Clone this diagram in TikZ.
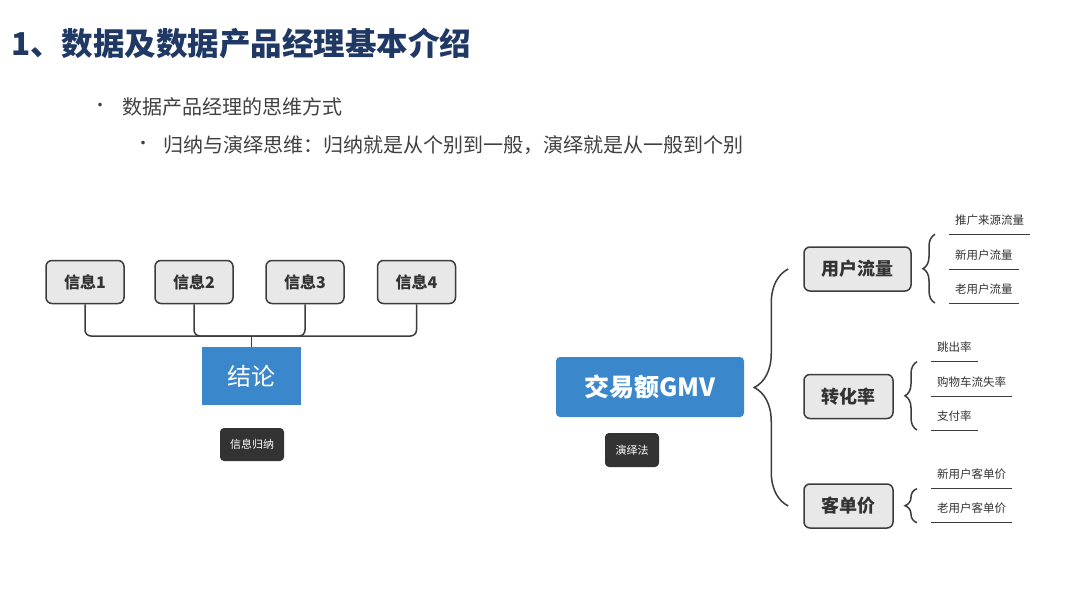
\documentclass[tikz,border=0pt]{standalone}
\usepackage{fontspec}
\setmainfont{Noto Sans CJK SC}
\usepackage{tikz}
\usetikzlibrary{decorations.pathreplacing,positioning}
\definecolor{SlideNavy}{HTML}{203864}
\definecolor{SlideGray}{HTML}{404040}
\definecolor{MapBlue}{HTML}{3A87CB}
\definecolor{MapPale}{HTML}{E8E8E8}
\definecolor{MapLine}{HTML}{3C3C3C}
\definecolor{MapDark}{HTML}{333333}

\begin{document}
\begin{tikzpicture}[x=1pt,y=-1pt,
  infobox/.style={draw=MapLine,line width=1.5pt,rounded corners=6pt,fill=MapPale,
    minimum width=78pt,minimum height=43pt,font=\fontsize{16}{18}\selectfont\bfseries,text=MapDark},
  topicbox/.style={draw=MapLine,line width=1.5pt,rounded corners=6pt,fill=MapPale,
    minimum height=44pt,font=\fontsize{18}{20}\selectfont\bfseries,text=MapDark},
  mainbox/.style={fill=MapBlue,text=white,inner sep=0pt},
  tag/.style={fill=MapDark,text=white,rounded corners=4pt,font=\fontsize{11}{13}\selectfont,
    minimum height=34pt,inner xsep=7pt},
  leaf/.style={anchor=south west,inner xsep=6pt,inner ysep=0pt,minimum height=28pt,
    font=\fontsize{11.5}{13}\selectfont,text=MapDark},
  leafline/.style={draw=MapLine,line width=1pt},
  conn/.style={draw=MapLine,line width=1.5pt,rounded corners=6pt},
  bracket/.style={draw=MapLine,line width=1.5pt,decorate,decoration={brace,amplitude=#1}}]
  \fill[white] (0,0) rectangle (1080,608);
  \useasboundingbox (0,0) rectangle (1080,608);

  % slide heading and bullets
  \node[anchor=west,inner sep=0pt,text=SlideNavy,font=\fontsize{31.5}{34}\selectfont\bfseries]
    (title) at (11,43) {1、数据及数据产品经理基本介绍};
  \node[text=SlideGray,font=\fontsize{17}{18}\selectfont,inner sep=0pt] (dot1) at (100,107) {•};
  \node[anchor=west,inner sep=0pt,text=SlideGray,font=\fontsize{20}{24}\selectfont]
    (way) at (122,107) {数据产品经理的思维方式};
  \node[text=SlideGray,font=\fontsize{17}{18}\selectfont,inner sep=0pt] (dot2) at (143,145) {•};
  \node[anchor=west,inner sep=0pt,text=SlideGray,font=\fontsize{20}{24}\selectfont]
    (induct) at (163,145) {归纳与演绎思维：归纳就是从个别到一般，演绎就是从一般到个别};

  % induction
  \node[infobox] (info1) at (85,282) {信息1};
  \node[infobox] (info2) at (194,282) {信息2};
  \node[infobox] (info3) at (305,282) {信息3};
  \node[infobox] (info4) at (416.5,282) {信息4};
  \node[mainbox,minimum width=99pt,minimum height=58pt,font=\fontsize{24}{28}\selectfont]
    (concl) at (251.5,376) {结论};
  \node[tag,minimum width=64pt,minimum height=33pt] (sum) at (252,444.5) {信息归纳};
  \coordinate (bus) at (251.5,336);
  \foreach \n in {info1,info2,info3,info4}
    \draw[conn] (\n.south) |- (bus);
  \draw[conn] (bus) -- (concl.north);

  % deduction
  \node[mainbox,rounded corners=4pt,minimum width=188pt,minimum height=60pt,
    font=\fontsize{25}{28}\selectfont\bfseries] (gmv) at (650,387) {交易额GMV};
  \node[tag,minimum width=54pt] (rule) at (632,450) {演绎法};
  \node[topicbox,minimum width=107pt] (user) at (857.5,269) {用户流量};
  \node[topicbox,minimum width=89pt] (conv) at (848.5,396.5) {转化率};
  \node[topicbox,minimum width=89pt] (price) at (848.5,506) {客单价};
  \draw[bracket=34pt] ([xshift=-15pt]price.west) -- ([xshift=-15pt]user.west);

  \node[leaf] (u1) at (949,234.3) {推广来源流量};
  \node[leaf] (u2) at (949,269) {新用户流量};
  \node[leaf] (u3) at (949,303) {老用户流量};
  \node[leaf] (c1) at (931,361.7) {跳出率};
  \node[leaf] (c2) at (931,396) {购物车流失率};
  \node[leaf] (c3) at (931,430) {支付率};
  \node[leaf] (p1) at (931,488.7) {新用户客单价};
  \node[leaf] (p2) at (931,522.7) {老用户客单价};
  \foreach \n in {u1,u2,u3,c1,c2,c3,p1,p2}
    \draw[leafline] (\n.south west) -- (\n.south east);
  \draw[bracket=12pt] ([xshift=-14pt]u3.south west) -- ([xshift=-14pt]u1.south west);
  \draw[bracket=12pt] ([xshift=-14pt]c3.south west) -- ([xshift=-14pt]c1.south west);
  \draw[bracket=12pt] ([xshift=-14pt]p2.south west) -- ([xshift=-14pt]p1.south west);
\end{tikzpicture}
\end{document}
